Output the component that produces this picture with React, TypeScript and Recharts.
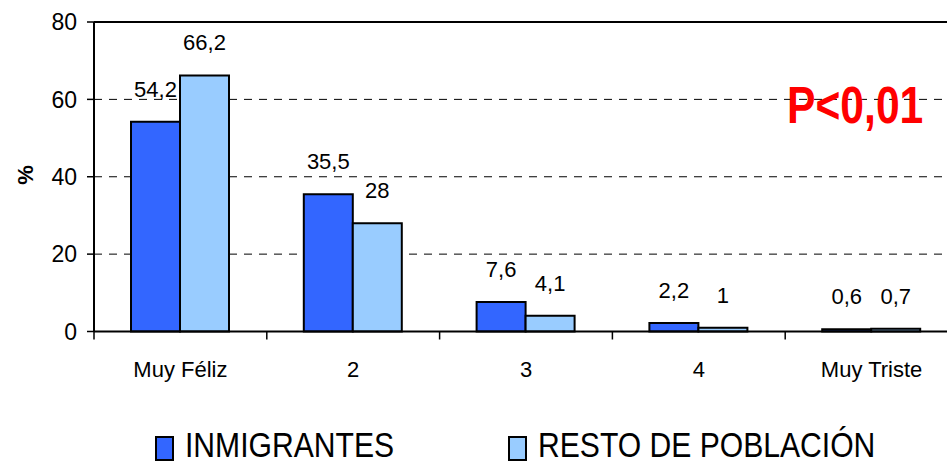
import React from 'react';
import {
  BarChart,
  Bar,
  XAxis,
  YAxis,
  CartesianGrid,
  ReferenceLine,
  LabelList,
  Legend,
} from 'recharts';

const categories = ['Muy Féliz', '2', '3', '4', 'Muy Triste'];
const inmigrantes = [54.2, 35.5, 7.6, 2.2, 0.6];
const restoPoblacion = [66.2, 28, 4.1, 1, 0.7];
const yTicks = [0, 20, 40, 60, 80];
const seriesNames = ['INMIGRANTES', 'RESTO DE POBLACIÓN'];
const pValueText = 'P<0,01';

const data = categories.map((name, i) => ({
  name,
  inm: inmigrantes[i],
  resto: restoPoblacion[i],
}));

const FONT = "'Liberation Sans', Arial, sans-serif";

const fmt = (v: any) => String(v).replace('.', ',');

const CategoryTick = (props: any) => {
  const { x, y, payload, index } = props;
  const half = payload && payload.offset ? payload.offset : 0;
  return (
    <g>
      <line x1={x - half} x2={x - half} y1={y} y2={y + 8} stroke="#000" strokeWidth={1.5} />
      {index === categories.length - 1 && (
        <line x1={x + half} x2={x + half} y1={y} y2={y + 8} stroke="#000" strokeWidth={1.5} />
      )}
      <text x={x} y={y + 30} dy="0.71em" textAnchor="middle" fontSize={22} fill="#000" fontFamily={FONT}>
        {payload.value}
      </text>
    </g>
  );
};

const LegendContent = (props: any) => {
  const payload = props.payload || [];
  const lefts = [155, 508];
  return (
    <div style={{ position: 'relative', width: 947, height: 40 }}>
      {payload.map((p: any, i: number) => (
        <React.Fragment key={i}>
          <div
            style={{
              position: 'absolute',
              left: lefts[i],
              top: 11,
              width: 15,
              height: 21,
              background: p.color,
              border: '2px solid #000',
            }}
          />
          <div
            style={{
              position: 'absolute',
              left: lefts[i] + 30,
              top: 5,
              fontSize: 35,
              lineHeight: '30px',
              fontFamily: FONT,
              color: '#000',
              whiteSpace: 'nowrap',
              transform: 'scaleX(0.86)',
              transformOrigin: 'left center',
            }}
          >
            {p.value}
          </div>
        </React.Fragment>
      ))}
    </div>
  );
};

export default function App() {
  return (
    <div style={{ position: 'absolute', left: 0, top: 0, width: 947, height: 465, overflow: 'hidden', background: '#fff' }}>
      <BarChart
        width={960}
        height={465}
        data={data}
        margin={{ top: 22, right: 2, left: 0, bottom: 0 }}
        barCategoryGap={37}
        barGap={0}
        style={{ fontFamily: FONT }}
      >
        <CartesianGrid vertical={false} stroke="#000" strokeDasharray="8 7" strokeWidth={1} />
        <XAxis
          dataKey="name"
          interval={0}
          height={93.5}
          tickSize={0}
          tickMargin={0}
          tickLine={false}
          axisLine={{ stroke: '#000', strokeWidth: 2 }}
          tick={<CategoryTick />}
        />
        <YAxis
          domain={[0, 80]}
          ticks={yTicks}
          width={94}
          tickSize={7}
          tickMargin={10}
          axisLine={{ stroke: '#000', strokeWidth: 2 }}
          tickLine={{ stroke: '#000', strokeWidth: 1.5 }}
          tick={{ fontSize: 23, fill: '#000', fontFamily: FONT }}
        />
        <ReferenceLine y={80} stroke="#000" strokeWidth={2} />
        <Bar dataKey="inm" name={seriesNames[0]} fill="#3366FF" stroke="#000" strokeWidth={2} isAnimationActive={false}>
          <LabelList dataKey="inm" position="top" offset={25} fontSize={22} fill="#000" fontFamily={FONT} formatter={fmt} />
        </Bar>
        <Bar dataKey="resto" name={seriesNames[1]} fill="#99CCFF" stroke="#000" strokeWidth={2} isAnimationActive={false}>
          <LabelList dataKey="resto" position="top" offset={25} fontSize={22} fill="#000" fontFamily={FONT} formatter={fmt} />
        </Bar>
        <Legend
          verticalAlign="bottom"
          content={<LegendContent />}
          wrapperStyle={{ position: 'absolute', left: 0, top: 425, width: 947, height: 40 }}
        />
        <text
          x={25}
          y={175}
          transform="rotate(-90 25 175)"
          textAnchor="middle"
          dominantBaseline="central"
          fontSize={22}
          fontWeight="bold"
          fill="#000"
          fontFamily={FONT}
        >
          %
        </text>
        <text
          x={0}
          y={0}
          transform="translate(787 123) scale(0.82 1)"
          fontSize={52}
          fontWeight="bold"
          fill="#FF0000"
          fontFamily={FONT}
        >
          {pValueText}
        </text>
      </BarChart>
    </div>
  );
}
